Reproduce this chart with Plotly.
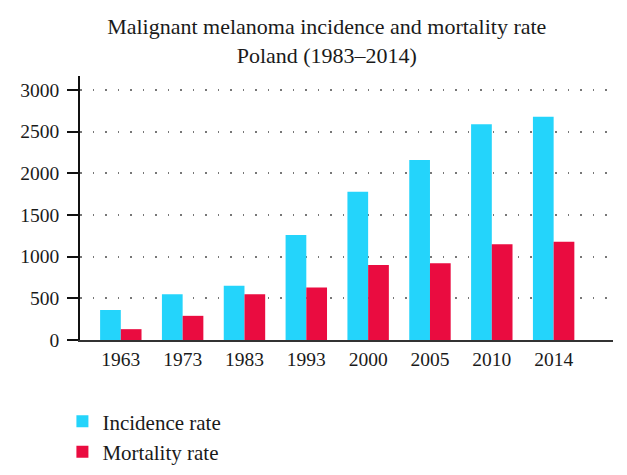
import plotly.graph_objects as go

# Data
years = ["1963", "1973", "1983", "1993", "2000", "2005", "2010", "2014"]
incidence = [360, 550, 650, 1260, 1780, 2160, 2590, 2680]
mortality = [130, 290, 550, 630, 900, 920, 1150, 1180]

font_family = "Liberation Serif, DejaVu Serif, serif"

fig = go.Figure()
fig.add_trace(go.Bar(x=years, y=incidence, name="Incidence rate",
                     marker=dict(color="#24d4fb", line=dict(width=0))))
fig.add_trace(go.Bar(x=years, y=mortality, name="Mortality rate",
                     marker=dict(color="#ea0c40", line=dict(width=0))))

# page body has an 8px margin, so the figure is sized to fit the window
fig.update_layout(
    width=619, height=467,
    margin=dict(l=67, r=14, t=68, b=135),
    paper_bgcolor="white", plot_bgcolor="white",
    barmode="group", bargap=0.33, bargroupgap=0,
    font=dict(family=font_family, size=19.5, color="#1a1a1a"),
    title=dict(text="Malignant melanoma incidence and mortality rate<br>Poland (1983\u20132014)",
               x=0.515, xref="container", xanchor="center",
               y=0.944, yref="container", yanchor="middle",
               font=dict(size=22, color="#1a1a1a")),
    showlegend=True,
    legend=dict(orientation="v", x=-0.033, xanchor="left",
                y=0.158, yref="container", yanchor="top",
                font=dict(size=21), tracegroupgap=0),
    xaxis=dict(type="category", range=[-0.66, 7.96], showline=True, linecolor="#333333",
               linewidth=1.5, ticks="", showgrid=False, ticklabelstandoff=1,
               tickfont=dict(size=19.5)),
    yaxis=dict(range=[0, 3168], tickvals=[0, 500, 1000, 1500, 2000, 2500, 3000],
               showline=True, linecolor="#111111", linewidth=1.5,
               ticks="outside", ticklen=11, tickwidth=1.5, tickcolor="#111111",
               showgrid=True, gridcolor="#777777", gridwidth=1.5, griddash="1.5px,11px",
               zeroline=False, tickfont=dict(size=19.5), ticklabelstandoff=4),
)

fig.write_html("out.html")
